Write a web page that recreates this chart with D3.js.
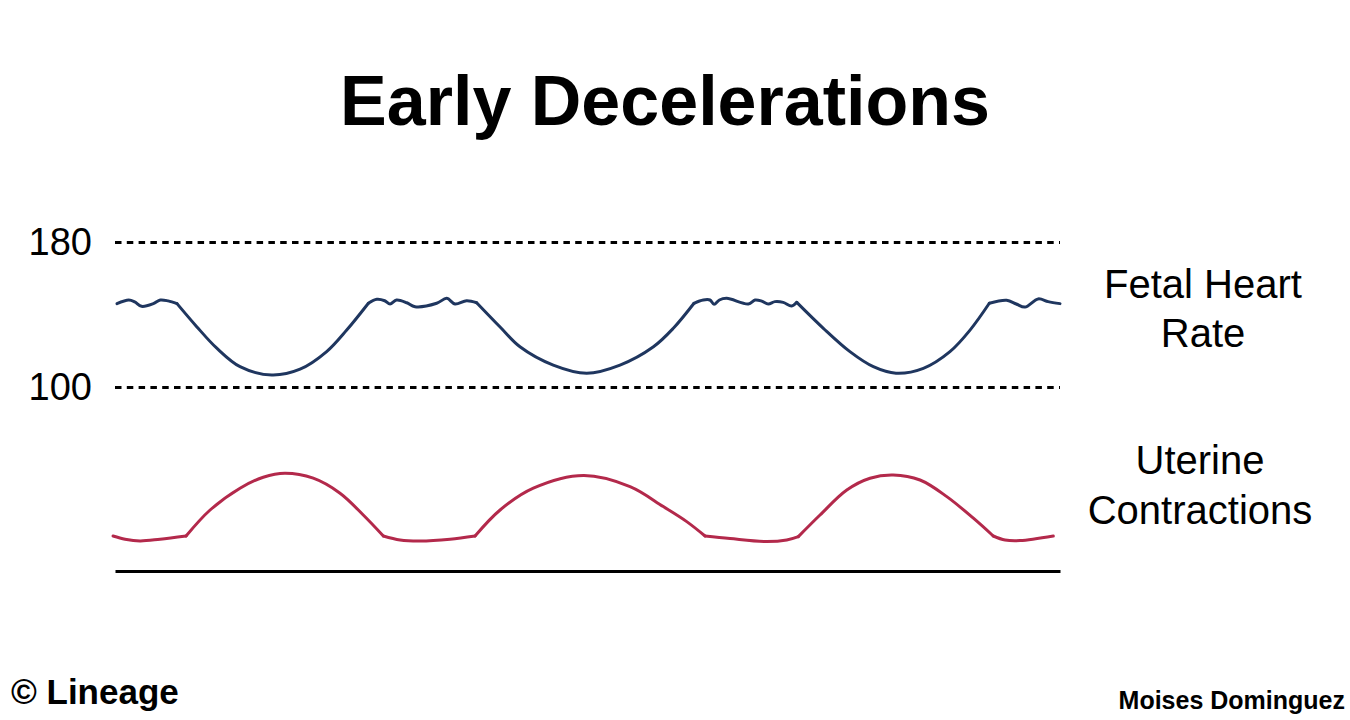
<!DOCTYPE html>
<html>
<head>
<meta charset="utf-8">
<style>
  body { margin: 0; background: #fff; }
  #ctg { font-family: 'Liberation Sans', Arial, sans-serif; }
  #ctg .grid line { stroke: #000; stroke-width: 3; stroke-dasharray: 6.5 5.3; }
  #ctg .grid text { font-size: 38px; fill: #000; }
  #ctg .label { font-size: 40px; text-anchor: middle; fill: #000; }
</style>
</head>
<body>
<div id="ctg"></div>
<script src="https://d3js.org/d3.v7.min.js"></script>
<script>
  // time in seconds, FHR in bpm, UC in mmHg
  var fhrTime = [1, 7, 10, 13.5, 19.5, 23, 27, 31.5,
    41.5, 51.7, 63.5, 79.6, 94, 107.5, 117.7, 128.7,
    133, 137, 139.7, 143, 148.2, 152.4, 163.4, 168.5, 172.7, 178.6, 183.7,
    195.6, 205.7, 222.6, 239.6, 256.5, 273.5, 283.6, 294.1,
    298.8, 302.2, 304.3, 307, 310.7, 321.7, 325.1, 328.5, 331.8, 335.2, 339.4, 343.7, 346.3,
    359.8, 373.3, 385.2, 396.7, 410.6, 424.1, 434.3, 444.1,
    452.9, 457.8, 462.2, 468.9, 474, 480];
  var fhrBpm = [146, 148, 147, 144.5, 146, 148, 147.5, 146,
    133.3, 121.4, 111.2, 106.6, 109.8, 119.5, 131.4, 146.2,
    148.4, 147.6, 145.8, 148, 146.5, 144.3, 146.2, 148.9, 145.8, 147.6, 146.5,
    133.1, 122.2, 112.1, 107.6, 112.1, 122.2, 132.4, 146.2,
    148, 148, 145.6, 148, 148.9, 145.8, 148, 147.4, 145.8, 147.1, 146.7, 144.7, 146.7,
    132.4, 119.5, 111.2, 107.6, 110.3, 119.5, 131.4, 146.2,
    147.8, 145.8, 144.1, 148.6, 147.1, 146];
  // where a deceleration starts or ends (sharp corner on the trace)
  var fhrCorners = [31.5, 128.7, 183.7, 294.1, 346.3, 444.1];

  var ucTime = [-1, 5.1, 12.7, 22.9, 36.1,
    48.3, 63.5, 75.3, 86.3, 100.7, 114.3, 126.1, 136.3,
    144.8, 154.9, 170.2, 182.9,
    195.6, 212.5, 238, 261.6, 278.5, 290.4, 299.7,
    312.4, 331, 341.2, 347.1,
    358.1, 371.7, 383.5, 395.3, 408.9, 422.5, 436, 446.1,
    452.1, 459.7, 476.6];
  var ucMmHg = [17.5, 15.9, 15, 15.9, 17.5,
    30.5, 41.4, 46.9, 48.9, 46.4, 38.9, 28, 17.5,
    15.5, 15, 15.9, 17.5,
    30.5, 41.4, 47.75, 42.2, 32.2, 24.7, 17.5,
    16.2, 14.7, 15.5, 17.2,
    28, 40.5, 46.4, 48, 45.5, 37.2, 26.4, 17.5,
    15.5, 15.2, 17.5];
  var ucCorners = [36.1, 136.3, 182.9, 299.7, 347.1, 446.1];

  var fhrTicks = [100, 180];
  var fhrLabel = ["Fetal Heart", "Rate"];
  var ucLabel = ["Uterine", "Contractions"];

  var width = 1350,
    height = 720;

  var svg = d3.select("#ctg").append("svg")
    .attr("width", width)
    .attr("height", height);

  var x = d3.scaleLinear().domain([0, 480]).range([115, 1060]);
  var yFhr = d3.scaleLinear().domain([100, 180]).range([387, 242]);
  var yUc = d3.scaleLinear().domain([0, 50]).range([571, 471]);

  // title
  svg.append("text")
    .attr("x", 665)
    .attr("y", 125)
    .attr("text-anchor", "middle")
    .style("font-size", "70px")
    .style("font-weight", "bold")
    .text("Early Decelerations");

  // dashed 100 / 180 lines
  var grid = svg.append("g")
    .attr("class", "grid")
    .attr("transform", "translate(" + x(0) + ",0)")
    .call(d3.axisLeft(yFhr)
      .tickValues(fhrTicks)
      .tickSize(-(x(480) - x(0)))
      .tickPadding(23));
  grid.select(".domain").remove();
  grid.selectAll("text").style("font-family", "'Liberation Sans', Arial, sans-serif");

  // baseline of the strip
  var base = svg.append("g")
    .attr("transform", "translate(0," + yUc(0) + ")")
    .call(d3.axisBottom(x).tickValues([]).tickSizeOuter(0));
  base.select(".domain").attr("stroke", "#000").attr("stroke-width", 3);

  // break a trace into pieces at its corners so each piece is smoothed on its own
  function pieces(times, vals, corners) {
    var out = [],
      cur = [];
    times.forEach(function(t, i) {
      cur.push([t, vals[i]]);
      if (corners.indexOf(t) >= 0) {
        out.push(cur);
        cur = [[t, vals[i]]];
      }
    });
    if (cur.length > 1) out.push(cur);
    return out;
  }

  function drawTrace(segs, yScale, colour) {
    var line = d3.line()
      .x(function(d) { return x(d[0]); })
      .y(function(d) { return yScale(d[1]); })
      .curve(d3.curveCatmullRom.alpha(0.5));
    svg.append("g").selectAll("path")
      .data(segs)
      .enter().append("path")
      .attr("d", line)
      .attr("fill", "none")
      .attr("stroke", colour)
      .attr("stroke-width", 3)
      .attr("stroke-linecap", "round")
      .attr("stroke-linejoin", "round");
  }

  drawTrace(pieces(fhrTime, fhrBpm, fhrCorners), yFhr, "#1f365f");
  drawTrace(pieces(ucTime, ucMmHg, ucCorners), yUc, "#b3294b");

  // side labels
  svg.selectAll(".fhrLabel")
    .data(fhrLabel)
    .enter().append("text")
    .attr("class", "label")
    .attr("x", 1203)
    .attr("y", function(d, i) { return 298 + i * 49; })
    .text(function(d) { return d; });

  svg.selectAll(".ucLabel")
    .data(ucLabel)
    .enter().append("text")
    .attr("class", "label")
    .attr("x", 1200)
    .attr("y", function(d, i) { return 474 + i * 50; })
    .text(function(d) { return d; });

  // footer
  svg.append("text")
    .attr("x", 11)
    .attr("y", 704)
    .style("font-size", "35px")
    .style("font-weight", "bold")
    .text("© Lineage");

  svg.append("text")
    .attr("x", 1345)
    .attr("y", 709)
    .attr("text-anchor", "end")
    .style("font-size", "25px")
    .style("font-weight", "bold")
    .text("Moises Dominguez");
</script>
</body>
</html>
